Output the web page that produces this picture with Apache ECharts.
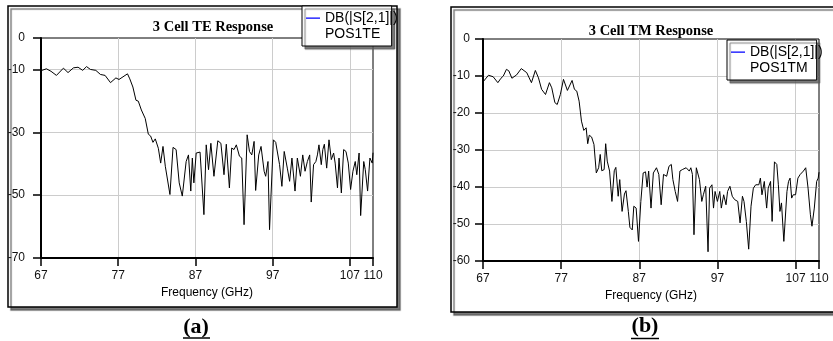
<!DOCTYPE html>
<html>
<head>
<meta charset="utf-8">
<script src="https://cdn.jsdelivr.net/npm/echarts@6/dist/echarts.min.js"></script>
<style>
html,body{margin:0;padding:0;background:#fff;}
#c{width:833px;height:341px;}
</style>
</head>
<body>
<div id="c"></div>
<script>
// ---- data ----
const teFreq = [67.0,67.7,68.3,69.0,69.9,70.5,71.2,71.8,72.4,72.9,73.4,73.6,74.1,74.7,75.3,76.0,76.7,77.1,78.2,78.5,78.9,79.3,79.6,80.0,80.5,80.9,81.2,81.5,81.8,82.2,82.5,82.8,83.1,83.3,83.7,84.1,84.5,84.9,85.3,85.8,86.1,86.4,86.6,86.8,87.1,87.6,88.1,88.4,88.7,89.0,89.4,89.9,90.3,90.7,91.0,91.4,91.7,92.0,92.3,92.7,93.0,93.3,93.7,94.0,94.3,94.6,94.8,95.2,95.5,95.9,96.1,96.4,96.6,97.1,97.4,97.9,98.2,98.5,98.9,99.2,99.5,99.9,100.2,100.6,100.9,101.2,101.5,101.8,102.0,102.3,102.6,102.8,103.0,103.3,103.5,103.7,104.0,104.3,104.6,104.9,105.1,105.4,105.6,105.9,106.2,106.5,106.8,107.1,107.4,107.7,107.9,108.2,108.4,108.8,109.0,109.3,109.6,109.9,110.0];
const teDb = [-10.4,-9.8,-10.6,-11.9,-9.6,-11.0,-9.5,-9.3,-10.3,-9.1,-10.0,-9.5,-10.3,-11.6,-11.9,-14.2,-12.7,-13.2,-11.4,-13.0,-15.6,-19.8,-20.1,-22.9,-25.6,-30.6,-31.2,-33.2,-32.1,-35.1,-39.8,-34.5,-40.8,-41.4,-49.8,-34.8,-35.5,-46.1,-50.3,-39.3,-37.2,-48.7,-38.2,-46.1,-36.6,-36.3,-56.2,-34.0,-41.9,-33.5,-44.0,-32.7,-33.5,-43.5,-33.8,-47.7,-35.0,-35.5,-34.0,-37.6,-38.2,-59.4,-30.8,-36.1,-37.2,-32.9,-48.5,-37.2,-34.5,-42.4,-44.0,-39.3,-61.0,-32.4,-33.2,-40.3,-47.2,-36.1,-41.4,-45.6,-38.2,-48.7,-38.2,-44.0,-37.2,-42.4,-39.3,-37.2,-52.2,-40.3,-39.3,-37.2,-34.0,-40.3,-35.5,-33.8,-41.4,-32.4,-38.7,-36.6,-39.8,-47.7,-38.2,-49.3,-35.5,-36.1,-39.8,-48.2,-42.4,-39.3,-43.5,-36.6,-56.5,-39.3,-41.9,-48.7,-38.2,-39.8,-36.5];

const tmFreq = [67.0,67.7,68.3,68.9,69.3,69.6,70.0,70.3,70.7,71.3,71.9,72.6,73.2,73.7,74.1,74.5,75.0,75.5,75.8,76.2,76.5,76.9,77.3,77.8,78.4,78.7,79.0,79.3,79.6,79.9,80.2,80.4,80.6,80.9,81.2,81.5,81.8,82.0,82.2,82.5,82.7,82.9,83.2,83.5,83.8,84.0,84.3,84.5,84.8,85.1,85.3,85.6,85.8,86.1,86.3,86.6,86.9,87.2,87.5,87.8,88.0,88.2,88.5,88.8,89.2,89.5,89.8,90.1,90.5,90.8,91.1,91.3,91.6,91.9,92.2,92.5,93.0,93.2,93.4,93.6,93.8,94.0,94.3,94.5,94.7,95.0,95.2,95.5,95.8,96.0,96.3,96.5,96.7,97.0,97.3,97.5,97.8,98.1,98.3,98.6,98.9,99.2,99.6,99.9,100.2,100.4,100.7,101.0,101.3,101.6,101.9,102.1,102.3,102.5,102.7,103.0,103.3,103.5,103.8,104.0,104.3,104.6,104.8,105.0,105.2,105.5,105.9,106.1,106.3,106.5,106.7,107.0,107.3,107.6,108.0,108.3,108.6,108.9,109.1,109.4,109.7,109.9,110.0];
const tmDb = [-11.6,-9.8,-10.2,-11.8,-10.6,-10.0,-8.2,-8.6,-10.6,-9.7,-8.0,-9.1,-11.8,-8.5,-10.5,-13.6,-15.0,-11.8,-13.2,-17.2,-17.7,-15.0,-10.9,-13.9,-11.2,-13.6,-14.1,-16.8,-22.2,-24.7,-24.0,-28.3,-26.0,-26.5,-28.5,-36.2,-34.8,-31.2,-35.6,-35.3,-28.3,-33.0,-35.7,-43.9,-35.6,-34.7,-42.5,-38.0,-46.6,-41.9,-41.0,-46.6,-50.9,-51.6,-45.2,-45.7,-54.7,-43.9,-36.2,-35.9,-40.0,-35.7,-45.7,-36.2,-34.8,-36.6,-44.8,-36.6,-37.1,-34.4,-33.9,-38.0,-41.2,-43.9,-35.7,-35.3,-34.8,-34.3,-35.7,-34.8,-36.6,-52.9,-34.8,-35.3,-38.0,-43.9,-42.1,-39.8,-57.5,-40.3,-39.4,-45.7,-41.2,-43.9,-41.2,-45.7,-42.1,-44.8,-41.2,-39.8,-42.5,-43.4,-43.9,-49.7,-42.5,-43.9,-49.3,-56.8,-45.2,-40.3,-39.4,-38.9,-39.4,-37.6,-42.1,-38.5,-45.7,-40.3,-38.5,-49.3,-33.2,-33.9,-39.4,-46.6,-44.3,-54.7,-41.2,-38.5,-37.6,-43.0,-42.1,-42.1,-37.6,-36.6,-35.7,-34.8,-40.3,-47.5,-50.6,-45.7,-38.5,-37.6,-36.0];

const xTicks = [67, 77, 87, 97, 107, 110];
const teYTicks = [0, -10, -30, -50, -70];
const tmYTicks = [0, -10, -20, -30, -40, -50, -60];
const teName = 'DB(|S[2,1]|)\nPOS1TE';
const tmName = 'DB(|S[2,1]|)\nPOS1TM';
const teTitle = '3 Cell TE Response';
const tmTitle = '3 Cell TM Response';
const xName = 'Frequency (GHz)';

// ---- chart ----
const SANS = 'Liberation Sans, Arial, sans-serif';
const SERIF = 'Liberation Serif, Times New Roman, serif';
const chart = echarts.init(document.getElementById('c'), null, {renderer: 'canvas'});

function xAxisCfg(gi) {
  return {
    type: 'value', gridIndex: gi, min: 67, max: 110,
    name: xName, nameLocation: 'middle', nameGap: 28,
    nameTextStyle: {fontSize: 12, color: '#000', fontFamily: SANS},
    axisLine: {onZero: false, lineStyle: {color: '#000', width: 2}},
    axisTick: {show: true, length: 8, customValues: xTicks, lineStyle: {color: '#000', width: 1.5}},
    axisLabel: {customValues: xTicks, margin: 12, fontSize: 12, color: '#111', fontFamily: SANS},
    splitLine: {show: true, showMinLine: false, showMaxLine: false, lineStyle: {color: '#cccccc', width: 1}}
  };
}
function yAxisCfg(gi, min, ticks, margin) {
  return {
    type: 'value', gridIndex: gi, min: min, max: 0,
    axisLine: {onZero: false, lineStyle: {color: '#000', width: 2}},
    axisTick: {show: true, length: 8, customValues: ticks, lineStyle: {color: '#000', width: 1.5}},
    axisLabel: {customValues: ticks, margin: margin, fontSize: 12, color: '#111', fontFamily: SANS},
    splitLine: {show: true, showMinLine: false, showMaxLine: false, lineStyle: {color: '#cccccc', width: 1}}
  };
}
const iconPath = 'path://M0,0h0.01v0.01h-0.01z M0,7.4h14v1.3h-14z M0,31.99h0.01v0.01h-0.01z';
function legendCfg(name, left, top) {
  return {
    data: [{name: name, itemStyle: {color: '#0000ff', borderWidth: 0}}],
    left: left, top: top, orient: 'vertical',
    icon: iconPath, itemWidth: 14, itemHeight: 32, itemGap: 0,
    padding: [4, -6, 4, 4],
    backgroundColor: '#fff', borderColor: '#000', borderWidth: 1,
    shadowColor: 'rgba(90,90,90,0.8)', shadowOffsetX: 3, shadowOffsetY: 3, shadowBlur: 1,
    textStyle: {fontSize: 14, lineHeight: 16, color: '#000', fontFamily: SANS},
    selectedMode: false
  };
}

chart.setOption({
  animation: false,
  backgroundColor: '#fff',
  grid: [
    {left: 41, top: 38, width: 332, height: 220, show: true, borderColor: '#000', borderWidth: 1, backgroundColor: 'transparent'},
    {left: 483, top: 39, width: 336, height: 222, show: true, borderColor: '#000', borderWidth: 1, backgroundColor: 'transparent'}
  ],
  xAxis: [xAxisCfg(0), xAxisCfg(1)],
  yAxis: [yAxisCfg(0, -70, teYTicks, 16), yAxisCfg(1, -60, tmYTicks, 13)],
  legend: [legendCfg(teName, 302, 6), legendCfg(tmName, 727, 40)],
  series: [
    {name: teName, type: 'line', xAxisIndex: 0, yAxisIndex: 0, showSymbol: false, symbol: 'none',
     lineStyle: {color: '#000', width: 1}, itemStyle: {color: '#000'},
     data: teFreq.map((f, i) => [f, teDb[i]])},
    {name: tmName, type: 'line', xAxisIndex: 1, yAxisIndex: 1, showSymbol: false, symbol: 'none',
     lineStyle: {color: '#000', width: 1}, itemStyle: {color: '#000'},
     data: tmFreq.map((f, i) => [f, tmDb[i]])}
  ],
  graphic: [
    {type: 'rect', z: -10, silent: true, shape: {x: 8, y: 6, width: 389, height: 301},
     style: {fill: '#fff', stroke: '#000', lineWidth: 1.5, shadowColor: 'rgba(90,90,90,0.8)', shadowOffsetX: 3, shadowOffsetY: 3, shadowBlur: 1}},
    {type: 'rect', z: -10, silent: true, shape: {x: 451, y: 7, width: 420, height: 305},
     style: {fill: '#fff', stroke: '#000', lineWidth: 1.5, shadowColor: 'rgba(90,90,90,0.8)', shadowOffsetX: 3, shadowOffsetY: 3, shadowBlur: 1}},
    {type: 'text', z: 10, silent: true, x: 213, y: 27,
     style: {text: teTitle, font: 'bold 14.5px ' + SERIF, fill: '#000', align: 'center', verticalAlign: 'middle'}},
    {type: 'text', z: 10, silent: true, x: 651, y: 31,
     style: {text: tmTitle, font: 'bold 14.5px ' + SERIF, fill: '#000', align: 'center', verticalAlign: 'middle'}},
    {type: 'text', z: 10, silent: true, x: 196, y: 327,
     style: {text: '(a)', font: 'bold 22px ' + SERIF, fill: '#000', align: 'center', verticalAlign: 'middle'}},
    {type: 'line', z: 10, silent: true, shape: {x1: 183, y1: 338, x2: 210, y2: 338}, style: {stroke: '#000', lineWidth: 1.5}},
    {type: 'text', z: 10, silent: true, x: 645, y: 326,
     style: {text: '(b)', font: 'bold 22px ' + SERIF, fill: '#000', align: 'center', verticalAlign: 'middle'}},
    {type: 'line', z: 10, silent: true, shape: {x1: 631, y1: 338.5, x2: 659, y2: 338.5}, style: {stroke: '#000', lineWidth: 1.5}}
  ]
});
</script>
</body>
</html>
